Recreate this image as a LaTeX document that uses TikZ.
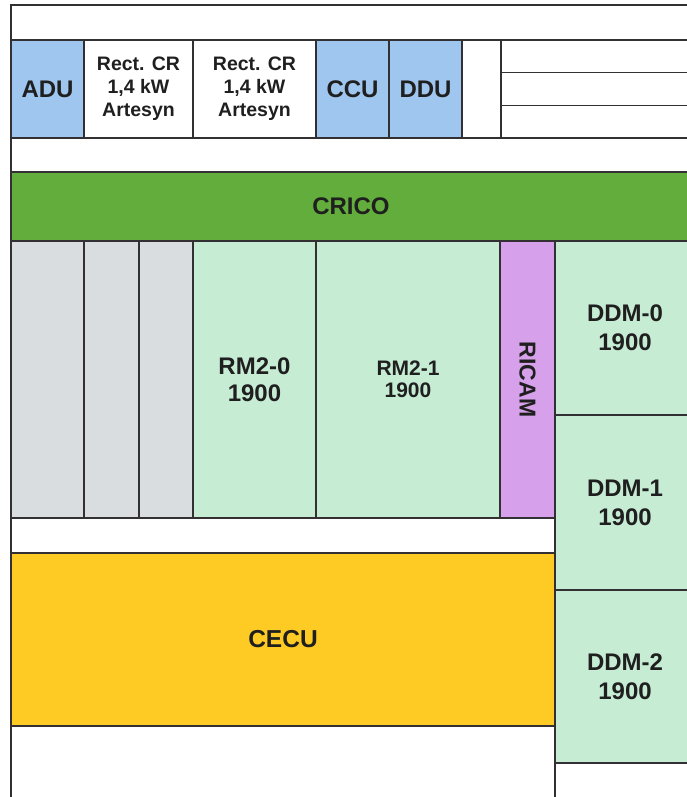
\documentclass[tikz,border=0pt]{standalone}
\usepackage{fontspec}
\setmainfont{Liberation Sans}
\usetikzlibrary{positioning}

\definecolor{unitblue}{HTML}{9FC6EE}
\definecolor{cricogreen}{HTML}{62AD3B}
\definecolor{slotgrey}{HTML}{D9DDE0}
\definecolor{modgreen}{HTML}{C6ECD4}
\definecolor{ricamviolet}{HTML}{D6A0EA}
\definecolor{cecuyellow}{HTML}{FECB24}
\definecolor{rackline}{HTML}{333033}

\begin{document}
\begin{tikzpicture}[x=1pt, y=-1pt,
        unit/.style={draw=rackline, line width=1.2pt, rectangle, inner sep=0pt, outer sep=0pt,
            align=center, text=black!88, font=\bfseries\fontsize{24}{28}\selectfont},
        psu/.style={unit, font=\bfseries\fontsize{19.5}{23}\selectfont},
        wire/.style={draw=rackline, line width=1.2pt}
    ]
        \useasboundingbox (0,0) rectangle (687,797);

        % top row
        \node [unit, fill=unitblue, minimum width=73pt, minimum height=98pt, anchor=north west] (adu) at (11,40) {ADU};
        \node [psu, minimum width=109pt, minimum height=98pt, right=0pt of adu] (rect1) {Rect. CR\\1,4 kW\\Artesyn};
        \node [psu, minimum width=123pt, minimum height=98pt, right=0pt of rect1] (rect2) {Rect. CR\\1,4 kW\\Artesyn};
        \node [unit, fill=unitblue, minimum width=73pt, minimum height=98pt, right=0pt of rect2] (ccu) {CCU};
        \node [unit, fill=unitblue, minimum width=73pt, minimum height=98pt, right=0pt of ccu] (ddu) {DDU};
        \node [unit, minimum width=39pt, minimum height=98pt, right=0pt of ddu] (spare) {};
        \node [unit, minimum width=200pt, minimum height=32.67pt, anchor=north west] (slot1) at (spare.north east) {};
        \node [unit, minimum width=200pt, minimum height=32.67pt, below=0pt of slot1] (slot2) {};
        \node [unit, minimum width=200pt, minimum height=32.67pt, below=0pt of slot2] (slot3) {};

        \node [unit, fill=cricogreen, minimum width=680pt, minimum height=69pt, anchor=north west] (crico) at (11,172) {CRICO};

        % middle row
        \node [unit, fill=slotgrey, minimum width=73pt, minimum height=277pt, anchor=north west] (grey1) at (crico.south west) {};
        \node [unit, fill=slotgrey, minimum width=55pt, minimum height=277pt, right=0pt of grey1] (grey2) {};
        \node [unit, fill=slotgrey, minimum width=54pt, minimum height=277pt, right=0pt of grey2] (grey3) {};
        \node [unit, fill=modgreen, minimum width=123pt, minimum height=277pt, right=0pt of grey3,
            font=\bfseries\fontsize{24}{27}\selectfont] (rm20) {RM2-0\\1900};
        \node [unit, fill=modgreen, minimum width=184pt, minimum height=277pt, right=0pt of rm20,
            font=\bfseries\fontsize{21}{22}\selectfont] (rm21) {RM2-1\\1900};
        \node [unit, fill=ricamviolet, minimum width=55pt, minimum height=277pt, right=0pt of rm21] (ricam) {};
        \node [rotate=-90, text=black!88, font=\bfseries\fontsize{23}{27}\selectfont] (ricamlbl) at (ricam.center) {RICAM};
        \node [unit, fill=modgreen, minimum width=140pt, minimum height=174pt, anchor=north west,
            font=\bfseries\fontsize{24}{29}\selectfont] (ddm0) at (ricam.north east) {DDM-0\\1900};
        \node [unit, fill=modgreen, minimum width=140pt, minimum height=175pt, below=0pt of ddm0,
            font=\bfseries\fontsize{24}{29}\selectfont] (ddm1) {DDM-1\\1900};
        \node [unit, fill=modgreen, minimum width=140pt, minimum height=173pt, below=0pt of ddm1,
            font=\bfseries\fontsize{24}{29}\selectfont] (ddm2) {DDM-2\\1900};

        % bottom
        \node [unit, fill=cecuyellow, minimum width=544pt, minimum height=173pt, anchor=north west,
            font=\bfseries\fontsize{24.5}{28}\selectfont] (cecu) at (11,553) {CECU};

        % rack frame
        \draw [wire, line width=1.8pt] (11,800) -- (11,5) -- (700,5);
        \draw [wire] (ddm2.south west) -- (ddm2.south west |- 0,800);

    \end{tikzpicture}
\end{document}
